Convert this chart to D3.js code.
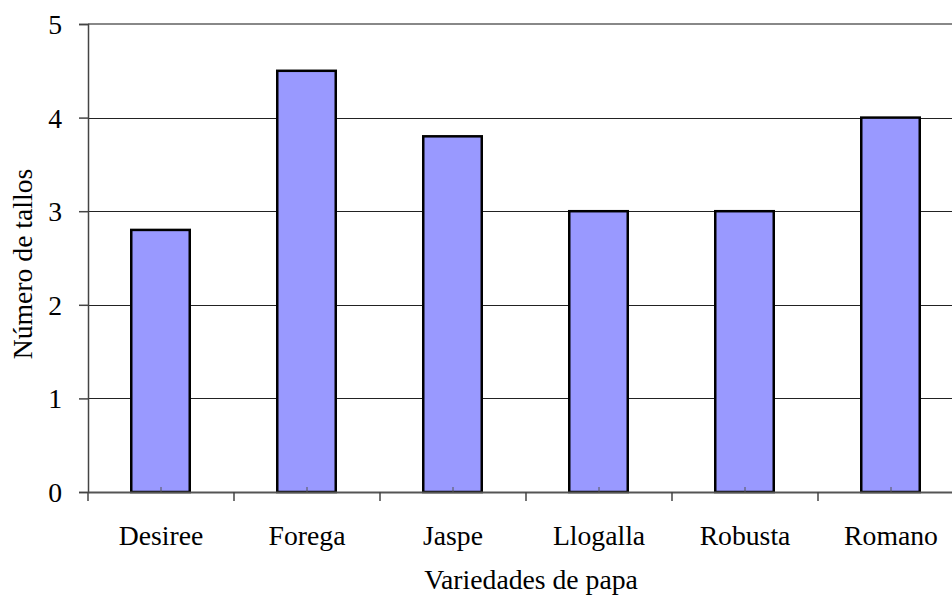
<!DOCTYPE html>
<html>
<head>
<meta charset="utf-8">
<script src="https://cdn.jsdelivr.net/npm/d3@7"></script>
<style>
  html, body { margin: 0; padding: 0; background: #fff; }
  svg { display: block; }
  svg text { font-family: "Times New Roman", "Liberation Serif", "DejaVu Serif", serif !important; fill: #000; }
</style>
</head>
<body>
<svg id="chart" width="952" height="595"></svg>
<script>
// Número de tallos por variedad de papa
const categories = ["Desiree", "Forega", "Jaspe", "Llogalla", "Robusta", "Romano"];
const values = [2.8, 4.5, 3.8, 3.0, 3.0, 4.0];
const yTicks = [0, 1, 2, 3, 4, 5];
const xTitle = "Variedades de papa";
const yTitle = "Número de tallos";

const svg = d3.select("#chart");
const plotLeft = 88, plotBottom = 492, plotTop = 24, band = 146;
const fontSize = 27.7;
const serif = "'Times New Roman', 'Liberation Serif', 'DejaVu Serif', serif";

const x = d3.scaleBand()
  .domain(categories)
  .range([plotLeft, plotLeft + band * categories.length])
  .paddingInner(0).paddingOuter(0);

const y = d3.scaleLinear().domain([0, 5]).range([plotBottom, plotTop]);

// horizontal gridlines
svg.append("g")
  .selectAll("line")
  .data(yTicks.filter(t => t > 0 && t < 5))
  .join("line")
  .attr("x1", plotLeft).attr("x2", 952)
  .attr("y1", d => Math.round(y(d)) + 0.5).attr("y2", d => Math.round(y(d)) + 0.5)
  .attr("stroke", "#222").attr("stroke-width", 1);

// top border of plot area
svg.append("line")
  .attr("x1", plotLeft).attr("x2", 952)
  .attr("y1", y(5)).attr("y2", y(5))
  .attr("stroke", "#888").attr("stroke-width", 2);

// bars
const barW = 58.5;
svg.append("g")
  .selectAll("rect")
  .data(categories.map((c, i) => ({ c, v: values[i] })))
  .join("rect")
  .attr("x", d => x(d.c) + x.bandwidth() / 2 - barW / 2 - 0.5)
  .attr("y", d => y(d.v))
  .attr("width", barW)
  .attr("height", d => y(0) - y(d.v))
  .attr("fill", "#9999ff")
  .attr("stroke", "#000")
  .attr("stroke-width", 2.5);

// y axis
const yAxis = svg.append("g")
  .attr("transform", `translate(${plotLeft},0)`)
  .call(d3.axisLeft(y).tickValues(yTicks).tickFormat(d3.format("d")).tickSize(9).tickPadding(17));
yAxis.attr("font-family", serif);
yAxis.select(".domain").attr("stroke", "#444").attr("stroke-width", 1.5);
yAxis.selectAll(".tick line").attr("stroke", "#444").attr("stroke-width", 1.5);
yAxis.selectAll(".tick text")
  .attr("font-size", fontSize)
  .style("font-family", serif)
  .attr("dy", "0.34em");

// x axis: small marks at category centres, labels below
const xAxis = svg.append("g")
  .attr("transform", `translate(0,${plotBottom})`)
  .call(d3.axisBottom(x).tickSize(-5).tickSizeOuter(0).tickPadding(33));
xAxis.attr("font-family", serif);
xAxis.select(".domain").attr("stroke", "#555").attr("stroke-width", 2);
xAxis.selectAll(".tick line").attr("stroke", "#555").attr("stroke-width", 1);
xAxis.selectAll(".tick text")
  .attr("font-size", fontSize)
  .style("font-family", serif);

// category boundary ticks
svg.append("g")
  .selectAll("line")
  .data(categories.map(c => x(c)))
  .join("line")
  .attr("x1", d => d).attr("x2", d => d)
  .attr("y1", plotBottom).attr("y2", plotBottom + 9)
  .attr("stroke", "#444").attr("stroke-width", 1.5);

// axis titles
svg.append("text")
  .attr("x", 531).attr("y", 589)
  .attr("text-anchor", "middle")
  .attr("font-size", fontSize)
  .style("font-family", serif)
  .text(xTitle);

svg.append("text")
  .attr("transform", "translate(32,264) rotate(-90)")
  .attr("text-anchor", "middle")
  .attr("font-size", fontSize)
  .style("font-family", serif)
  .text(yTitle);
</script>
</body>
</html>
